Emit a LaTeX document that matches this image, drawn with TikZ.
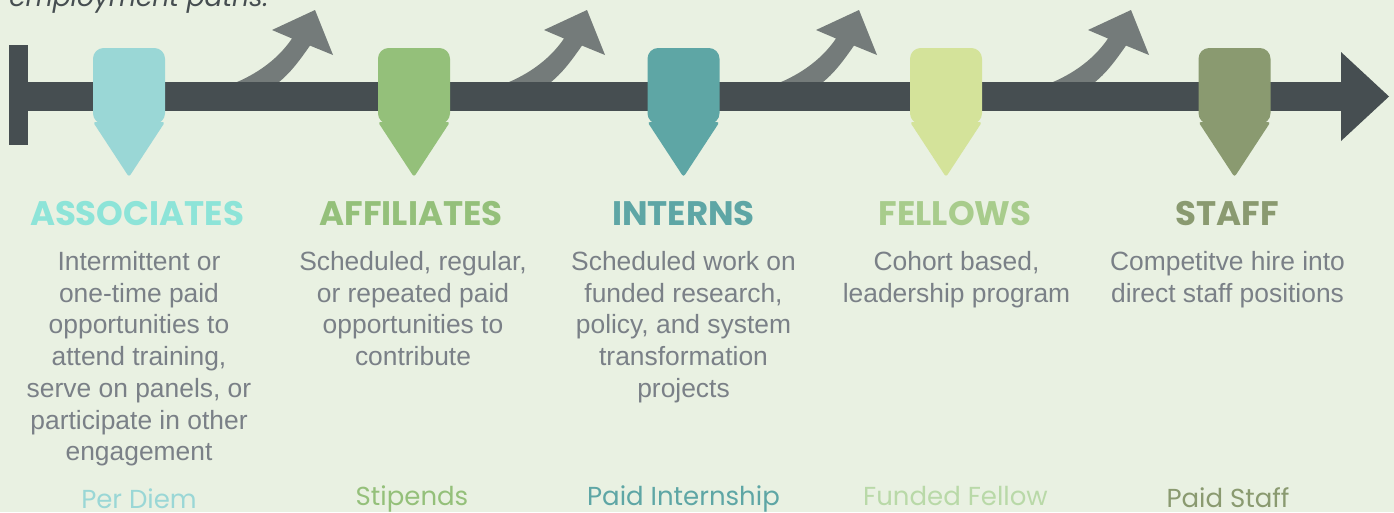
\documentclass[tikz,border=0pt]{standalone}
\usepackage{fontspec}
\setmainfont{Liberation Sans}
\newfontfamily\poppins{Poppins}

\definecolor{bgcol}{HTML}{E9F1E2}
\definecolor{barcol}{HTML}{464E51}
\definecolor{curvcol}{HTML}{747B7A}
\definecolor{desccol}{HTML}{7A8087}
\definecolor{mkAssoc}{HTML}{9AD7D6}
\definecolor{mkAffil}{HTML}{94C07A}
\definecolor{mkIntern}{HTML}{5EA6A5}
\definecolor{mkFellow}{HTML}{D4E39A}
\definecolor{mkStaff}{HTML}{8A9A70}
\definecolor{hdAssoc}{HTML}{8DE4D8}
\definecolor{hdFellow}{HTML}{A8CC8C}
\definecolor{lbFellow}{HTML}{B9D9A8}

\begin{document}
\begin{tikzpicture}[x=0.75pt,y=0.75pt,yscale=-1,xscale=1,
    head/.style={anchor=base,inner sep=0pt,font=\poppins\bfseries\fontsize{25.5}{30}\selectfont},
    desc/.style={anchor=north,inner sep=0pt,align=center,text=desccol,font=\fontsize{19.8}{23.8}\selectfont},
    pay/.style={anchor=base,inner sep=0pt,font=\poppins\fontsize{19.5}{23}\selectfont}]
	%set diagram: 1394 wide, 512 high
	\fill[bgcol] (0,0) rectangle (1394,512);
	\useasboundingbox (0,0) rectangle (1394,512);
	\clip (0,0) rectangle (1394,512);

	% Text Node (cut at the top)
	\node (intro) [anchor=base west,inner sep=0pt,text=barcol,font=\poppins\itshape\fontsize{19.8}{24}\selectfont] at (9,6) {employment paths.};

	% Curved arrows
	\foreach \s in {0,272,544,816}
	  \fill[curvcol,shift={(\s,0)}] (227,86) .. controls (252,77) and (276,62) .. (292,38.5) -- (272,30) -- (315,10) -- (333,55) -- (310,45.6) .. controls (297,64) and (287,78) .. (268,90) -- cycle;

	% Timeline
	\fill[barcol] (9,45) rectangle (28,145);
	\fill[barcol] (28,82) rectangle (1342,111);
	\fill[barcol] (1341,52) -- (1389,96.5) -- (1341,141) -- cycle;

	% Markers
	\foreach \mx/\col in {129/mkAssoc,414/mkAffil,683.5/mkIntern,946/mkFellow,1234.5/mkStaff}{
	  \fill[\col,rounded corners=8pt] (\mx-36,48) rectangle (\mx+36,124);
	  \fill[\col,rounded corners=2pt] (\mx-36,122) -- (\mx+36,122) -- (\mx,177) -- cycle;
	}

	% Text Node
	\node (hAssoc) [head,text=hdAssoc] at (137,225) {ASSOCIATES};
	\node (dAssoc) [desc] at (139,251) {Intermittent or\\one-time paid\\opportunities to\\attend training,\\serve on panels, or\\participate in other\\engagement};
	\node (pAssoc) [pay,text=mkAssoc] at (139,508) {Per Diem};
	% Text Node
	\node (hAffil) [head,text=mkAffil] at (411,225) {AFFILIATES};
	\node (dAffil) [desc] at (413,251) {Scheduled, regular,\\or repeated paid\\opportunities to\\contribute};
	\node (pAffil) [pay,text=mkAffil] at (412,505) {Stipends};
	% Text Node
	\node (hIntern) [head,text=mkIntern] at (683.5,225) {INTERNS};
	\node (dIntern) [desc] at (683.5,251) {Scheduled work on\\funded research,\\policy, and system\\transformation\\projects};
	\node (pIntern) [pay,text=mkIntern] at (683.5,505) {Paid Internship};
	% Text Node
	\node (hFellow) [head,text=hdFellow] at (955,225) {FELLOWS};
	\node (dFellow) [desc] at (956.5,251) {Cohort based,\\leadership program};
	\node (pFellow) [pay,text=lbFellow] at (955.5,505) {Funded Fellow};
	% Text Node
	\node (hStaff) [head,text=mkStaff] at (1227,225) {STAFF};
	\node (dStaff) [desc] at (1227.5,251) {Competitve hire into\\direct staff positions};
	\node (pStaff) [pay,text=mkStaff] at (1228,507) {Paid Staff};
\end{tikzpicture}
\end{document}
